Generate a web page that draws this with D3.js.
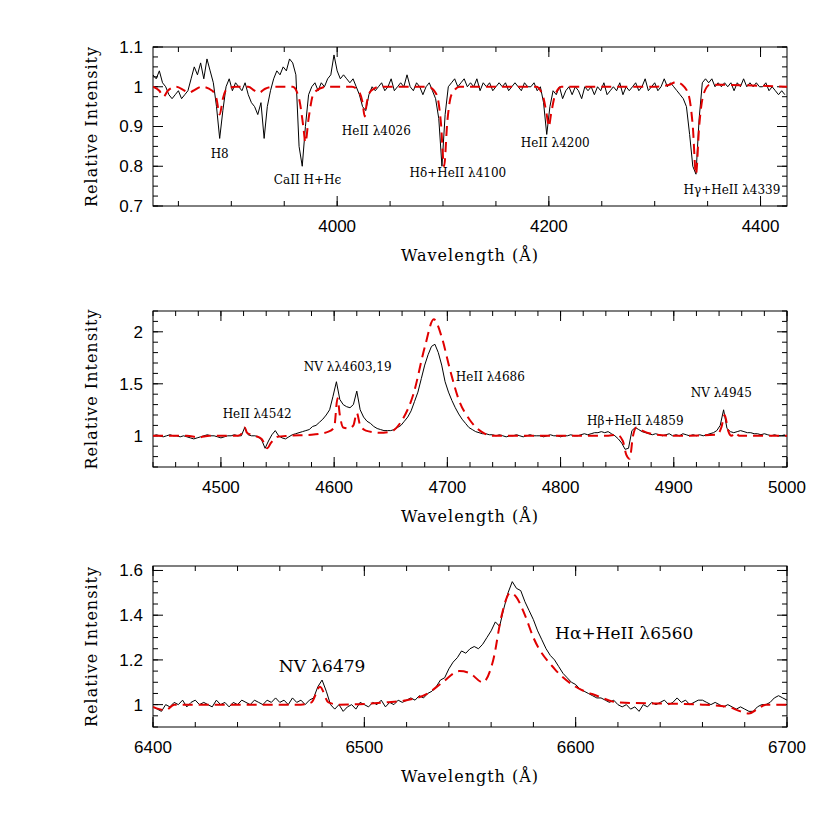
<!DOCTYPE html>
<html><head><meta charset="utf-8">
<script src="https://cdn.jsdelivr.net/npm/d3@7"></script>
<style>body{margin:0;background:#fff}</style>
</head><body>
<svg id="c" width="830" height="830"></svg>
<script>
// ---------- data ----------
const obs1Start = 3826, obs1Step = 3;
const obs1 = [
1.03,1.02,1.04,1.01,1.00,0.98,0.97,0.98,0.99,0.97,
0.98,0.99,1.02,1.05,1.03,1.06,1.02,1.07,1.04,1.01,
0.95,0.87,0.94,1.00,1.02,0.99,1.01,1.00,0.99,1.01,
0.98,0.96,0.95,0.93,0.96,0.87,0.95,0.99,1.02,1.04,
1.03,1.05,1.04,1.07,1.06,1.03,0.85,0.80,0.90,0.98,
1.00,1.01,0.99,1.01,1.00,1.02,1.03,1.08,1.04,1.02,
1.03,1.02,1.01,1.02,1.00,0.98,0.95,0.94,0.98,1.00,
0.99,1.00,1.01,0.99,1.00,1.02,0.99,1.00,1.01,1.00,
1.03,1.00,0.99,1.01,1.00,0.98,1.00,1.01,0.99,0.97,
0.92,0.80,0.93,1.00,1.01,1.02,1.00,1.01,1.02,1.00,
1.01,1.00,1.02,0.99,1.01,1.00,1.01,0.99,1.00,1.01,
1.00,1.01,0.99,1.00,1.01,1.00,0.99,1.01,1.00,1.00,
1.01,0.99,1.00,0.96,0.88,0.95,0.99,0.98,1.00,0.97,
0.99,1.00,0.98,1.00,0.99,0.97,1.00,0.99,1.00,0.98,
1.00,0.99,1.01,0.98,0.99,1.00,0.99,1.01,0.98,1.00,
0.99,1.00,1.01,0.99,1.00,1.02,0.99,1.00,1.01,0.99,
1.00,1.02,1.00,1.01,1.00,0.99,0.98,0.97,0.95,0.88,
0.80,0.78,0.92,1.01,1.02,1.01,1.02,1.00,1.01,1.00,
1.01,1.00,1.01,0.99,1.01,1.00,1.02,1.00,1.01,1.00,
1.01,1.00,1.00,1.01,0.99,1.00,0.99,0.98,0.99,0.98];
const mod1W = [3826,3832,3836,3840,3848,3856,3860,3864,3872,3882,3886,3889,3892,3896,3904,3916,3922,3926,3932,3940,3958,3964,3968,3970,3973,3978,3990,4014,4020,4024,4026,4028,4032,4040,4086,4094,4098,4101,4104,4108,4116,4188,4194,4198,4200,4202,4206,4212,4300,4314,4320,4326,4332,4336,4339,4342,4346,4352,4425];
const mod1V = [1.00,0.99,0.975,0.99,1.00,0.99,0.985,0.99,1.00,0.99,0.97,0.93,0.97,0.995,1.00,1.00,0.99,0.985,0.995,1.00,1.00,0.97,0.90,0.86,0.92,0.985,1.00,1.00,0.99,0.96,0.925,0.96,0.99,1.00,1.00,0.98,0.91,0.80,0.91,0.98,1.00,1.00,0.98,0.93,0.90,0.93,0.98,1.00,1.00,1.005,1.012,1.005,0.98,0.90,0.78,0.90,0.98,1.005,1.00];

const obs2Start = 4440, obs2Step = 3;
const obs2 = [
1.00,1.01,1.00,0.99,1.00,1.01,1.00,1.00,0.99,1.00,
0.99,0.98,0.97,0.98,0.99,1.00,1.01,1.00,1.00,0.99,
0.98,0.99,1.00,1.00,1.01,1.00,1.00,1.08,1.01,1.00,
1.00,0.99,0.96,0.88,0.95,1.01,1.05,1.00,0.98,0.97,
0.99,1.01,1.02,1.03,1.04,1.05,1.06,1.09,1.10,1.13,
1.16,1.20,1.25,1.38,1.52,1.35,1.30,1.28,1.27,1.30,
1.43,1.25,1.18,1.14,1.12,1.09,1.07,1.06,1.05,1.05,
1.05,1.06,1.08,1.10,1.14,1.18,1.24,1.33,1.42,1.55,
1.68,1.78,1.86,1.88,1.80,1.68,1.52,1.42,1.34,1.27,
1.21,1.16,1.12,1.08,1.06,1.04,1.03,1.02,1.02,1.01,
1.01,1.00,1.01,1.00,0.99,1.00,1.00,1.01,1.00,0.99,
1.00,1.01,1.00,1.00,1.00,0.99,1.00,1.01,1.00,1.00,
0.99,1.00,1.00,1.01,1.00,1.00,1.01,1.02,1.01,1.02,
1.03,1.03,1.04,1.03,1.04,1.02,1.00,0.97,0.93,0.87,
0.88,1.05,1.08,1.06,1.04,1.03,1.02,1.01,1.02,1.01,
1.00,1.01,1.02,1.00,1.01,1.00,1.02,1.01,1.00,1.01,
1.00,1.01,1.00,1.01,1.02,1.03,1.05,1.10,1.25,1.07,
1.04,1.03,1.04,1.05,1.04,1.03,1.03,1.02,1.02,1.01,
1.02,1.01,1.00,1.01,1.00,1.00,1.01];
const mod2W = [4440,4470,4480,4490,4515,4519,4521,4523,4530,4536,4539,4541,4544,4550,4560,4580,4595,4600,4603,4605,4608,4613,4617,4620,4623,4628,4640,4650,4660,4670,4680,4688,4695,4702,4710,4720,4730,4740,4840,4850,4855,4858,4861,4864,4867,4872,4880,4900,4938,4942,4945,4948,4951,4954,4958,5000];
const mod2V = [1.00,1.00,0.985,1.00,1.00,1.03,1.08,1.03,1.00,0.97,0.91,0.88,0.93,0.99,1.00,1.01,1.04,1.08,1.36,1.20,1.08,1.07,1.10,1.22,1.10,1.05,1.03,1.04,1.15,1.40,1.85,2.12,1.95,1.65,1.35,1.15,1.04,1.00,1.00,1.01,0.95,0.82,0.78,1.00,1.08,1.05,1.02,1.00,1.01,1.08,1.20,1.05,1.00,1.03,1.00,1.00];

const obs3Start = 6400, obs3Step = 2;
const obs3 = [
0.99,0.98,0.97,1.00,0.99,1.01,1.00,1.02,0.99,1.01,
1.02,1.00,1.01,1.00,0.99,1.02,1.00,1.01,0.99,1.01,
1.00,1.02,1.01,1.00,1.02,1.01,1.00,1.02,1.01,1.03,
1.01,1.02,1.00,1.03,1.01,1.02,1.00,1.02,1.03,1.08,
1.11,1.06,1.00,0.98,1.00,0.97,0.99,1.00,0.98,1.01,
1.00,0.99,1.01,1.00,1.02,0.99,1.01,1.00,1.02,1.01,
1.02,1.03,1.02,1.04,1.03,1.05,1.06,1.08,1.11,1.12,
1.16,1.19,1.21,1.24,1.23,1.25,1.26,1.25,1.27,1.30,
1.33,1.37,1.35,1.43,1.50,1.55,1.52,1.51,1.46,1.42,
1.38,1.33,1.29,1.25,1.22,1.20,1.17,1.14,1.12,1.10,
1.09,1.07,1.06,1.05,1.04,1.03,1.03,1.02,1.01,1.02,
1.00,0.99,1.00,0.98,0.99,0.97,1.00,0.99,1.01,1.00,
1.01,1.02,1.00,1.01,1.03,1.01,1.02,1.00,1.01,1.02,
1.02,1.01,1.00,1.01,1.00,0.99,1.00,0.99,0.98,0.99,
0.98,0.97,0.97,0.99,1.00,1.00,1.01,1.03,1.04,1.03,
1.02];
const mod3W = [6400,6403,6406,6410,6470,6475,6479,6483,6488,6510,6520,6530,6537,6545,6550,6556,6561,6565,6569,6572,6576,6580,6590,6600,6610,6620,6660,6672,6678,6682,6686,6690,6700];
const mod3V = [0.99,0.98,0.975,1.00,1.00,1.01,1.08,1.01,1.00,1.01,1.02,1.05,1.10,1.15,1.14,1.10,1.20,1.40,1.50,1.48,1.40,1.30,1.16,1.08,1.04,1.01,1.00,0.99,0.97,0.96,0.98,1.00,1.00];

const xTicks1 = [4000,4200,4400], yTicks1 = [0.7,0.8,0.9,1,1.1];
const xTicks2 = [4500,4600,4700,4800,4900,5000], yTicks2 = [1,1.5,2];
const xTicks3 = [6400,6500,6600,6700], yTicks3 = [1,1.2,1.4,1.6];
const labels1 = [["H8",3889,0.831],["CaII H+H\u03F5",3972,0.765],["HeII \u03BB4026",4037,0.89],["H\u03B4+HeII \u03BB4100",4114,0.783],["HeII \u03BB4200",4206,0.858],["H\u03B3+HeII \u03BB4339",4373,0.74]];
const labels2 = [["HeII \u03BB4542",4532,1.21],["NV \u03BB\u03BB4603,19",4612,1.66],["HeII \u03BB4686",4738,1.565],["H\u03B2+HeII \u03BB4859",4866,1.14],["NV \u03BB4945",4942,1.41]];
const labels3 = [["NV \u03BB6479",6480,1.173],["H\u03B1+HeII \u03BB6560",6623,1.32]];

// ---------- drawing ----------
const svg = d3.select("#c");
const L = 153, R = 787;
function panel(o){
  const x = d3.scaleLinear().domain(o.xd).range([L,R]);
  const y = d3.scaleLinear().domain(o.yd).range([o.bot,o.top]);
  const g = svg.append("g");
  const clipId = "clip"+o.id;
  svg.append("clipPath").attr("id",clipId).append("rect").attr("x",L).attr("y",o.top).attr("width",R-L).attr("height",o.bot-o.top);
  // ticks
  const tk = (vals,len,axis)=>{
    vals.forEach(v=>{
      if(axis==="x"){
        const px=x(v); if(px<L-0.1||px>R+0.1) return;
        g.append("line").attr("x1",px).attr("x2",px).attr("y1",o.bot).attr("y2",o.bot-len).attr("stroke","#000");
        g.append("line").attr("x1",px).attr("x2",px).attr("y1",o.top).attr("y2",o.top+len).attr("stroke","#000");
      } else {
        const py=y(v); if(py<o.top-0.1||py>o.bot+0.1) return;
        g.append("line").attr("x1",L).attr("x2",L+len).attr("y1",py).attr("y2",py).attr("stroke","#000");
        g.append("line").attr("x1",R).attr("x2",R-len).attr("y1",py).attr("y2",py).attr("stroke","#000");
      }
    });
  };
  tk(d3.range(Math.ceil(o.xd[0]/o.xm)*o.xm,o.xd[1]+0.01,o.xm),5,"x");
  tk(o.xt,10,"x");
  tk(d3.range(Math.ceil(o.yd[0]/o.ym-1e-6)*o.ym,o.yd[1]+1e-6,o.ym),5,"y");
  tk(o.yt,10,"y");
  g.append("rect").attr("x",L).attr("y",o.top).attr("width",R-L).attr("height",o.bot-o.top).attr("fill","none").attr("stroke","#000").attr("stroke-width",1);
  o.xt.forEach(v=>g.append("text").attr("x",x(v)).attr("y",o.bot+26).attr("text-anchor","middle").attr("font-family","Liberation Sans, Arial").attr("font-size",17).text(v));
  o.yt.forEach(v=>g.append("text").attr("x",L-10).attr("y",y(v)).attr("dy","0.35em").attr("text-anchor","end").attr("font-family","Liberation Sans, Arial").attr("font-size",17).text(v));
  g.append("text").attr("x",470).attr("y",o.bot+55).attr("text-anchor","middle").attr("font-family","DejaVu Serif").attr("font-size",16).attr("letter-spacing",1).text("Wavelength (\u00C5)");
  g.append("text").attr("transform",`translate(97,${(o.top+o.bot)/2}) rotate(-90)`).attr("text-anchor","middle").attr("font-family","DejaVu Serif").attr("font-size",16).attr("letter-spacing",1).text("Relative Intensity");
  const obsPts = o.obs.map((v,i)=>[o.start+i*o.step,v]);
  const line = d3.line().x(d=>x(d[0])).y(d=>y(d[1]));
  g.append("path").attr("clip-path",`url(#${clipId})`).attr("d",line(obsPts)).attr("fill","none").attr("stroke","#000").attr("stroke-width",1);
  const modPts = o.mw.map((w,i)=>[w,o.mv[i]]);
  g.append("path").attr("clip-path",`url(#${clipId})`).attr("d",line.curve(d3.curveMonotoneX)(modPts)).attr("fill","none").attr("stroke","#e00000").attr("stroke-width",2).attr("stroke-dasharray","10,6");
  o.labels.forEach(l=>g.append("text").attr("x",x(l[1])).attr("y",y(l[2])).attr("dy","0.35em").attr("text-anchor","middle").attr("font-family","DejaVu Serif").attr("font-size",o.lfs).text(l[0]));
}
panel({id:1,xd:[3826,4425],yd:[0.7,1.1],top:47,bot:206,xm:50,ym:0.025,xt:xTicks1,yt:yTicks1,obs:obs1,start:obs1Start,step:obs1Step,mw:mod1W,mv:mod1V,labels:labels1,lfs:12});
panel({id:2,xd:[4440,5000],yd:[0.7,2.2],top:311,bot:467,xm:20,ym:0.1,xt:xTicks2,yt:yTicks2,obs:obs2,start:obs2Start,step:obs2Step,mw:mod2W,mv:mod2V,labels:labels2,lfs:12});
panel({id:3,xd:[6400,6700],yd:[0.9,1.62],top:566,bot:727,xm:20,ym:0.05,xt:xTicks3,yt:yTicks3,obs:obs3,start:obs3Start,step:obs3Step,mw:mod3W,mv:mod3V,labels:labels3,lfs:17});
</script>
</body></html>
